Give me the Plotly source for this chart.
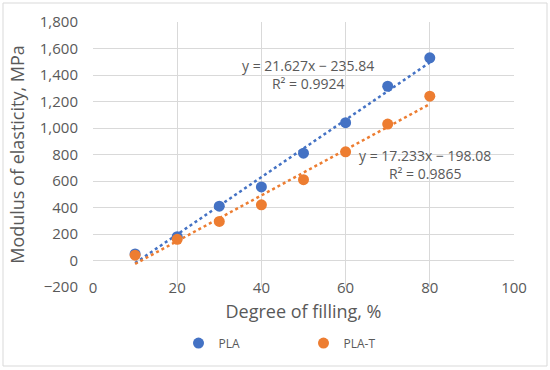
import numpy as np
import plotly.graph_objects as go

fill = [10, 20, 30, 40, 50, 60, 70, 80]
pla = [50, 180, 410, 555, 810, 1040, 1315, 1530]
pla_t = [40, 160, 295, 420, 610, 820, 1030, 1240]

pla_fit = (21.627, -235.84, 0.9924)
plat_fit = (17.233, -198.08, 0.9865)

x_ticks = [0, 20, 40, 60, 80, 100]
y_ticks = [-200, 0, 200, 400, 600, 800, 1000, 1200, 1400, 1600, 1800]

BLUE = "#4472C4"
ORANGE = "#ED7D31"
GRAY = "#595959"
FONT = "Open Sans"

fig = go.Figure()

xf = np.array([min(fill), max(fill)], dtype=float)
for (m, b, r2), col in [(pla_fit, BLUE), (plat_fit, ORANGE)]:
    fig.add_trace(go.Scatter(x=xf, y=m * xf + b, mode="lines",
                             line=dict(color=col, width=2.5, dash="dot"),
                             showlegend=False, hoverinfo="skip"))

fig.add_trace(go.Scatter(x=fill, y=pla, mode="markers", name="PLA",
                         marker=dict(color=BLUE, size=11)))
fig.add_trace(go.Scatter(x=fill, y=pla_t, mode="markers", name="PLA-T",
                         marker=dict(color=ORANGE, size=11)))

def eq(m, b):
    return f"y = {m:.3f}x − {abs(b):.2f}"

fig.add_annotation(x=51.1, y=1404, xref="x", yref="y", showarrow=False,
                   text=eq(pla_fit[0], pla_fit[1]) + "<br>R² = " + f"{pla_fit[2]:.4f}",
                   font=dict(family=FONT, size=14, color=GRAY), align="center")
fig.add_annotation(x=78.9, y=721, xref="x", yref="y", showarrow=False,
                   text=eq(plat_fit[0], plat_fit[1]) + "<br>R² = " + f"{plat_fit[2]:.4f}",
                   font=dict(family=FONT, size=14, color=GRAY), align="center")

L, R, T, B = 93, 36, 22, 83
pw, ph = 550 - L - R, 370 - T - B
fig.add_shape(type="rect", xref="paper", yref="paper",
              x0=(3 - L) / pw, x1=(547 - L) / pw,
              y0=(370 - B - 366) / ph, y1=(370 - B - 3) / ph,
              line=dict(color="#d9d9d9", width=1), layer="below")

fig.update_layout(
    width=550, height=370,
    margin=dict(l=L, r=R, t=T, b=B, autoexpand=False),
    paper_bgcolor="white", plot_bgcolor="white",
    font=dict(family=FONT, color=GRAY),
    xaxis=dict(range=[0, 100], tickvals=x_ticks, showgrid=True, gridcolor="#d9d9d9",
               zeroline=False, showline=False, ticks="", automargin=False,
               ticklabelstandoff=-10,
               tickfont=dict(size=15, color=GRAY),
               title=dict(text="Degree of filling, %", font=dict(size=18, color=GRAY), standoff=9)),
    yaxis=dict(range=[-200, 1800], tickvals=y_ticks, tickformat=",", showgrid=True,
               gridcolor="#d9d9d9", zeroline=False, showline=False, ticks="",
               automargin=False, ticklabelstandoff=14,
               tickfont=dict(size=15, color=GRAY),
               title=dict(text="Modulus of elasticity, MPa", font=dict(size=18, color=GRAY), standoff=10)),
    legend=dict(orientation="h", x=0.5, xanchor="center", y=-0.157, yanchor="top",
                font=dict(size=12, color=GRAY), entrywidth=80, entrywidthmode="pixels",
                bgcolor="rgba(0,0,0,0)"),
    showlegend=True,
)

fig.write_html("out.html", post_script="document.body.style.margin='0';",
               config={"displayModeBar": False})
